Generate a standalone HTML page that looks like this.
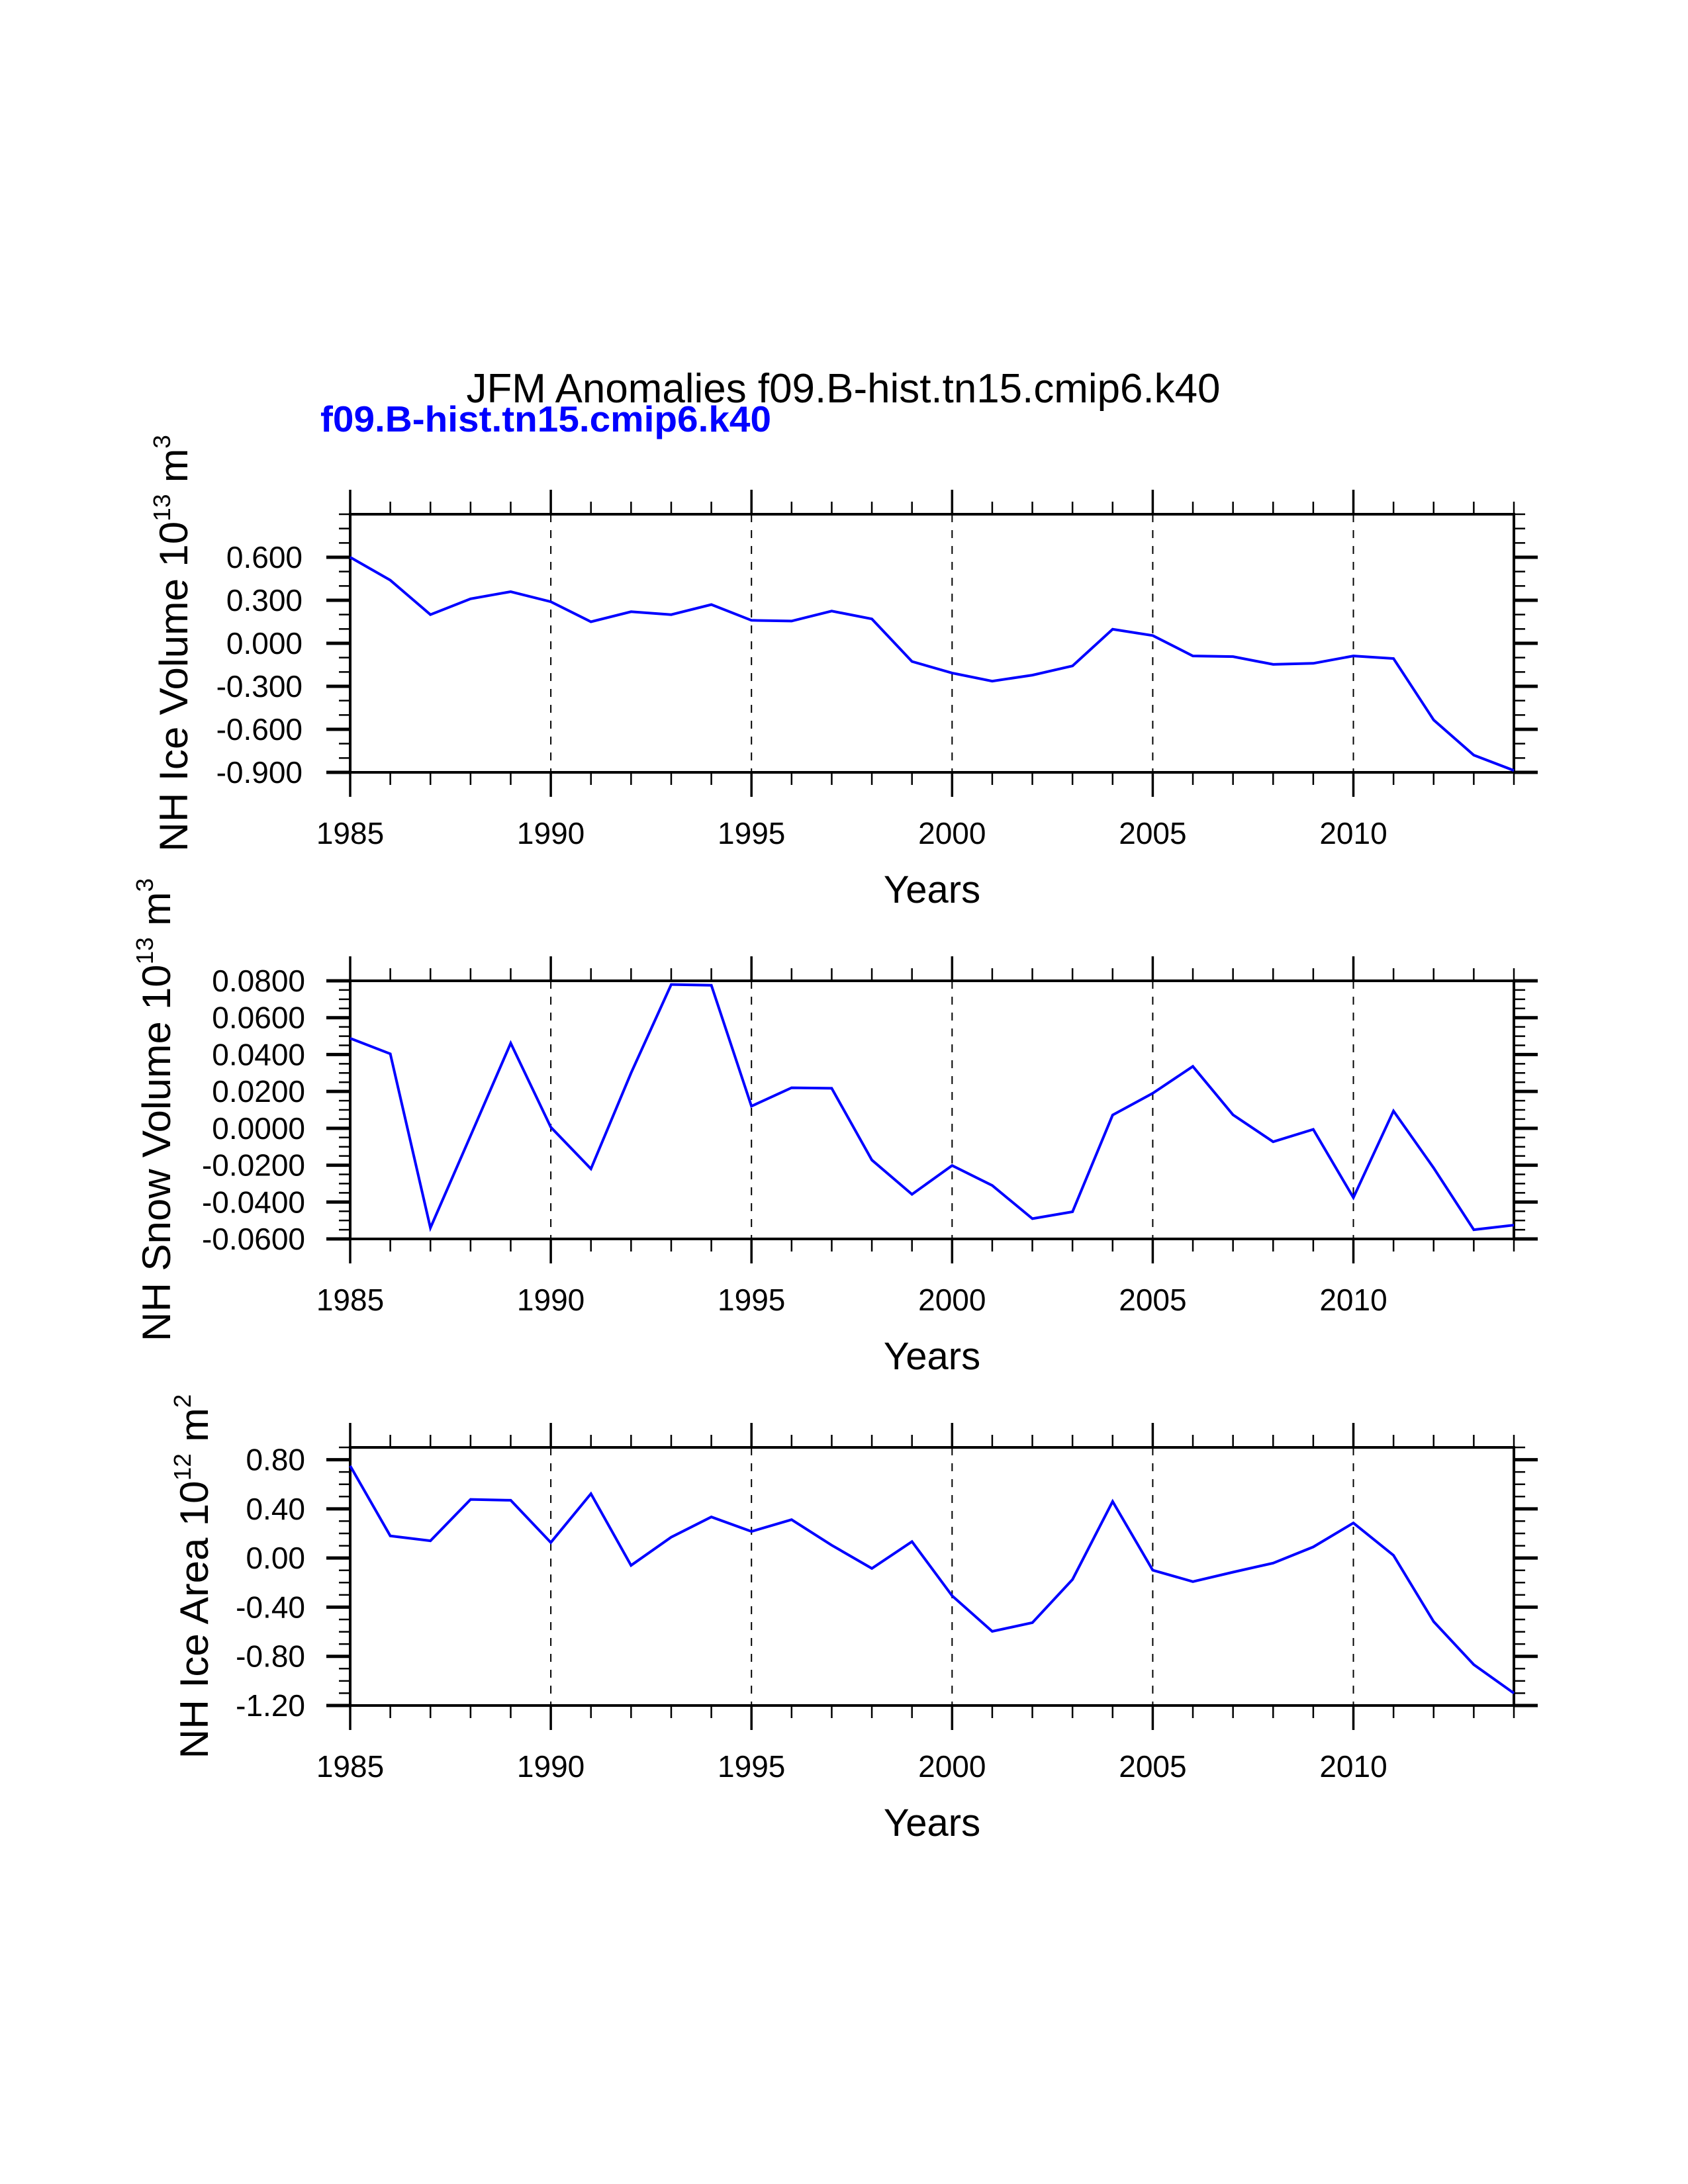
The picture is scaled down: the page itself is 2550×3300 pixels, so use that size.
<!DOCTYPE html>
<html><head><meta charset="utf-8"><title>JFM Anomalies</title>
<style>html,body{margin:0;padding:0;background:#fff}svg{display:block}</style></head>
<body>
<svg id="fig" xmlns="http://www.w3.org/2000/svg" width="2550" height="3300" viewBox="0 0 2550 3300" font-family="Liberation Sans, Arial, sans-serif">
<rect width="2550" height="3300" fill="#fff"/>
<text x="1274" y="608" font-size="62" text-anchor="middle" textLength="1139" lengthAdjust="spacingAndGlyphs">JFM Anomalies f09.B-hist.tn15.cmip6.k40</text>
<text x="484" y="652" font-size="55" font-weight="bold" fill="#0000ff" textLength="681" lengthAdjust="spacingAndGlyphs">f09.B-hist.tn15.cmip6.k40</text>
</svg>
<script>
const years = [1985,1986,1987,1988,1989,1990,1991,1992,1993,1994,1995,1996,1997,1998,1999,2000,2001,2002,2003,2004,2005,2006,2007,2008,2009,2010,2011,2012,2013,2014];
const iceVolume = [0.60,0.44,0.20,0.31,0.36,0.29,0.15,0.22,0.20,0.27,0.16,0.155,0.225,0.17,-0.127,-0.207,-0.264,-0.222,-0.158,0.098,0.054,-0.088,-0.093,-0.147,-0.14,-0.088,-0.106,-0.535,-0.78,-0.887];
const snowVolume = [0.0488,0.0404,-0.054,-0.004,0.0462,0.0006,-0.022,0.030,0.078,0.0776,0.012,0.022,0.0217,-0.0172,-0.0358,-0.0202,-0.031,-0.049,-0.0453,0.0072,0.019,0.0336,0.0073,-0.0073,-0.0006,-0.0376,0.0094,-0.0215,-0.055,-0.0525];
const iceArea = [0.75,0.18,0.14,0.477,0.47,0.126,0.523,-0.06,0.17,0.334,0.216,0.312,0.104,-0.085,0.134,-0.307,-0.597,-0.526,-0.175,0.46,-0.099,-0.192,-0.115,-0.041,0.09,0.285,0.022,-0.518,-0.868,-1.10];
const yearTickLabels = ["1985","1990","1995","2000","2005","2010"];
const iceVolumeTicks = ["-0.900","-0.600","-0.300","0.000","0.300","0.600"];
const snowVolumeTicks = ["-0.0600","-0.0400","-0.0200","0.0000","0.0200","0.0400","0.0600","0.0800"];
const iceAreaTicks = ["-1.20","-0.80","-0.40","0.00","0.40","0.80"];

const NS = "http://www.w3.org/2000/svg";
const svg = document.getElementById('fig');
function mk(tag, attrs, parent){
  const e = document.createElementNS(NS, tag);
  for (const k in attrs) e.setAttribute(k, attrs[k]);
  (parent||svg).appendChild(e);
  return e;
}
const L = 529, R = 2287, H = 390;
const panels = [
  {key:'ice-volume', top:777, vals:iceVolume, ticks:iceVolumeTicks, ymin:-0.9, ymax:0.9, minor:0.1, lab:"NH Ice Volume 10", sup1:"13", unit:"m", sup2:"3", labX:283, labLen:630, tickX:457},
  {key:'snow-volume', top:1482, vals:snowVolume, ticks:snowVolumeTicks, ymin:-0.06, ymax:0.08, minor:0.005, lab:"NH Snow Volume 10", sup1:"13", unit:"m", sup2:"3", labX:257, labLen:700, tickX:461},
  {key:'ice-area', top:2187, vals:iceArea, ticks:iceAreaTicks, ymin:-1.2, ymax:0.9, minor:0.1, lab:"NH Ice Area 10", sup1:"12", unit:"m", sup2:"2", labX:314, labLen:551, tickX:461}
];
const x0 = years[0], x1 = years[years.length-1];
function xs(v){ return L + (v - x0) / (x1 - x0) * (R - L); }

panels.forEach(p => {
  const B = p.top + H;
  const ys = v => B - (v - p.ymin) / (p.ymax - p.ymin) * H;
  const g = mk('g', {});
  
  
  yearTickLabels.forEach(t => {
    const v = +t; if (v === x0) return;
    const ln = mk('line', {x1:xs(v), x2:xs(v), y1:p.top, y2:B, stroke:'#000', 'stroke-width':2, 'stroke-dasharray':'12,12'}, g);
    
    
  });
  for (let v = x0; v <= x1; v++) {
    const major = (v % 5 === 0);
    const len = major ? 37 : 19;
    const w = major ? 3.5 : 2.5;
    mk('line', {x1:xs(v), x2:xs(v), y1:p.top, y2:p.top - len, stroke:'#000', 'stroke-width':w}, g);
    mk('line', {x1:xs(v), x2:xs(v), y1:B, y2:B + len, stroke:'#000', 'stroke-width':w}, g);
  }
  const n = Math.round((p.ymax - p.ymin) / p.minor);
  const majorStep = (+p.ticks[1]) - (+p.ticks[0]);
  for (let i = 0; i <= n; i++) {
    const v = p.ymin + i * p.minor;
    const r = (v - p.ymin) / majorStep;
    const major = Math.abs(r - Math.round(r)) < 1e-6 && v <= (+p.ticks[p.ticks.length-1]) + 1e-9;
    const len = major ? 36 : 17;
    const w = major ? 5 : 2.5;
    mk('line', {x1:L, x2:L - len, y1:ys(v), y2:ys(v), stroke:'#000', 'stroke-width':w}, g);
    mk('line', {x1:R, x2:R + len, y1:ys(v), y2:ys(v), stroke:'#000', 'stroke-width':w}, g);
  }
  const fr = mk('rect', {x:L, y:p.top, width:R-L, height:H, fill:'none', stroke:'#000', 'stroke-width':4}, g);
  
  
  p.ticks.forEach(t => {
    const tx = mk('text', {x:p.tickX, y:ys(+t) + 16, 'font-size':46, 'text-anchor':'end'}, g);
    
    
    tx.textContent = t;
  });
  yearTickLabels.forEach(t => {
    const tx = mk('text', {x:xs(+t), y:B + 108, 'font-size':46, 'text-anchor':'middle'}, g);
    
    
    tx.textContent = t;
  });
  const xt = mk('text', {x:1408, y:B + 197, 'font-size':58, 'text-anchor':'middle'}, g);
  
  
  xt.textContent = 'Years';
  const cy = p.top + H / 2;
  const yt = mk('text', {x:0, y:0, 'font-size':60, 'text-anchor':'middle', transform:'translate(' + p.labX + ',' + cy + ') rotate(-90)', textLength:p.labLen, lengthAdjust:'spacingAndGlyphs'}, g);
  
  
  const t1 = mk('tspan', {}, yt); t1.textContent = p.lab;
  const t2 = mk('tspan', {'font-size':36, dy:-26}, yt); t2.textContent = p.sup1;
  const t3 = mk('tspan', {dy:26}, yt); t3.textContent = ' ' + p.unit;
  const t4 = mk('tspan', {'font-size':36, dy:-26}, yt); t4.textContent = p.sup2;
  const pts = p.vals.map((v, i) => xs(years[i]).toFixed(1) + ',' + ys(v).toFixed(1)).join(' ');
  const pl = mk('polyline', {points:pts, fill:'none', stroke:'#0000ff', 'stroke-width':4, 'stroke-linejoin':'miter'}, g);
  
  
});
</script>
</body></html>
